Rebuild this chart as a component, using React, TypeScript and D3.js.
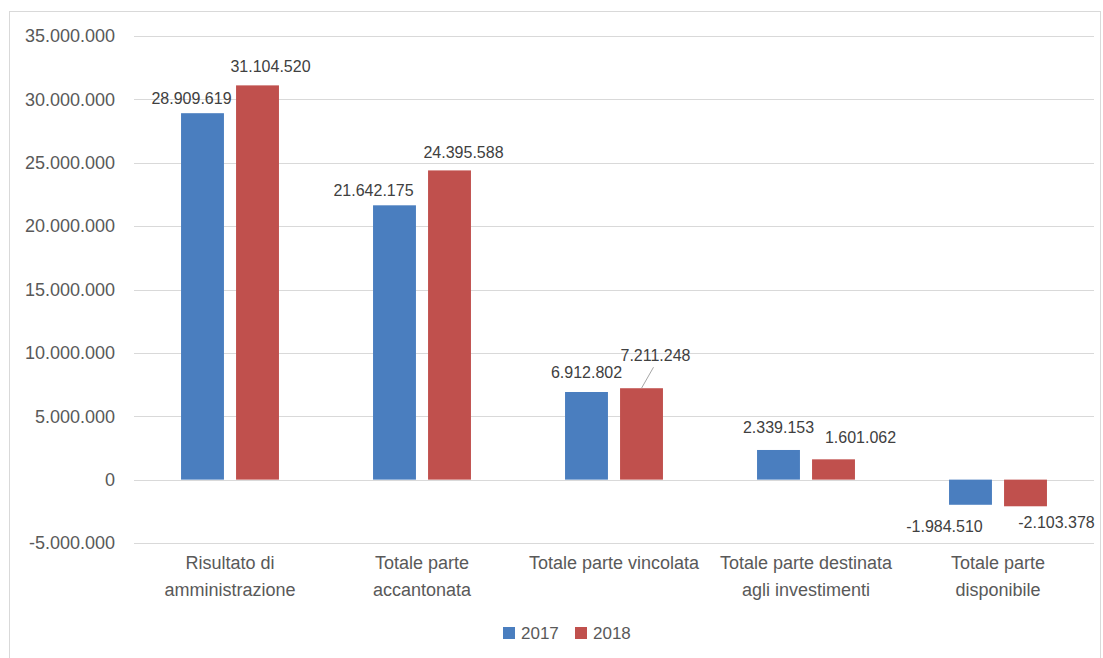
import React from "react";
import * as d3 from "d3";

const categories = [
  ["Risultato di", "amministrazione"],
  ["Totale parte", "accantonata"],
  ["Totale parte vincolata"],
  ["Totale parte destinata", "agli investimenti"],
  ["Totale parte", "disponibile"],
];
const seriesNames = ["2017", "2018"];
const values2017 = [28909619, 21642175, 6912802, 2339153, -1984510];
const values2018 = [31104520, 24395588, 7211248, 1601062, -2103378];
const yTicks = [-5000000, 0, 5000000, 10000000, 15000000, 20000000, 25000000, 30000000, 35000000];
const colors = ["#4A7EBF", "#C0504D"];

// label nudges (dx, dy) relative to default placement
const labelNudge2017 = [[-11, 0], [-21, 0], [0, -5], [0, -8], [-26, 5]];
const labelNudge2018 = [[13, -4], [14, -3], [14, -18], [27, -7], [31, 0]];

const fmt = (v: number) => {
  const s = Math.abs(v).toString().replace(/\B(?=(\d{3})+(?!\d))/g, ".");
  return (v < 0 ? "-" : "") + s;
};

export default function App() {
  const W = 1103, H = 658;
  const y = d3.scaleLinear().domain([-5000000, 35000000]).range([543, 36]);
  const x = d3.scaleBand<number>().domain(d3.range(categories.length)).range([134, 1094]).paddingInner(0.49).paddingOuter(0.245);
  const xi = d3.scaleBand<string>().domain(seriesNames).range([0, x.bandwidth()]).paddingInner(0.22);
  const series = [values2017, values2018];
  const nudges = [labelNudge2017, labelNudge2018];
  const font = "'Liberation Sans', Arial, sans-serif";

  return (
    <svg width={W} height={H} style={{ position: "absolute", left: 0, top: 0, background: "#fff" }} fontFamily={font}>
      <rect x={9.5} y={11.5} width={1091} height={660} fill="#fff" stroke="#D9D9D9" />
      {yTicks.map((t) => (
        <g key={t}>
          <line x1={134} x2={1094} y1={Math.round(y(t)) + 0.5} y2={Math.round(y(t)) + 0.5} stroke="#D9D9D9" strokeWidth={1} />
          <text x={115} y={y(t)} dy="0.35em" textAnchor="end" fontSize={18} fill="#595959">{fmt(t)}</text>
        </g>
      ))}
      {series.map((vals, si) =>
        vals.map((v, ci) => {
          const bx = (x(ci) as number) + (xi(seriesNames[si]) as number);
          const bw = xi.bandwidth();
          const y0 = y(0), y1 = y(v);
          const top = Math.min(y0, y1);
          const h = Math.abs(y1 - y0);
          const [dx, dy] = nudges[si][ci];
          const lx = bx + bw / 2 + dx;
          const ly = v >= 0 ? y1 - 9 + dy : y1 + 22 + dy;
          return (
            <g key={si + "-" + ci}>
              <rect x={bx} y={top} width={bw} height={h} fill={colors[si]} />
              {si === 1 && ci === 2 && (
                <line x1={bx + bw / 2} y1={y1} x2={lx - 2} y2={ly + 6} stroke="#A6A6A6" strokeWidth={1} />
              )}
              <text x={lx} y={ly} textAnchor="middle" fontSize={16} fill="#404040">{fmt(v)}</text>
            </g>
          );
        })
      )}
      {categories.map((lines, ci) => (
        <text key={ci} x={(x(ci) as number) + x.bandwidth() / 2} y={569} textAnchor="middle" fontSize={18} fill="#595959">
          {lines.map((l, li) => (
            <tspan key={li} x={(x(ci) as number) + x.bandwidth() / 2} dy={li === 0 ? 0 : 27}>{l}</tspan>
          ))}
        </text>
      ))}
      <g transform="translate(503,627)">
        {seriesNames.map((s, i) => (
          <g key={s} transform={`translate(${i * 72},0)`}>
            <rect x={0} y={0} width={12} height={12} fill={colors[i]} />
            <text x={18} y={6} dy="0.35em" fontSize={17} fill="#595959">{s}</text>
          </g>
        ))}
      </g>
    </svg>
  );
}
